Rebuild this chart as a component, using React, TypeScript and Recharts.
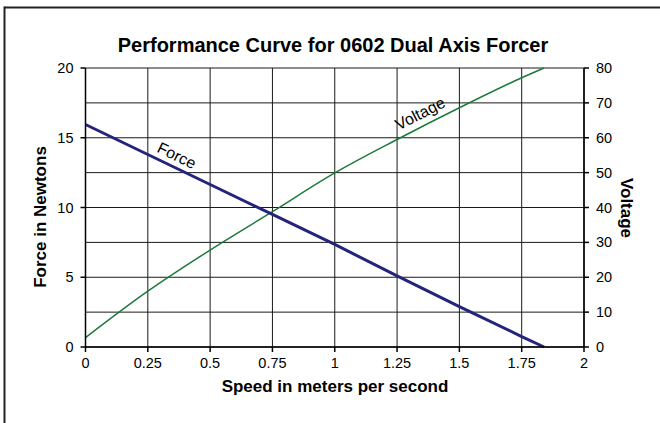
import React from "react";
import { CartesianGrid, Line, LineChart, XAxis, YAxis } from "recharts";

const speed = [0, 0.25, 0.5, 0.75, 1, 1.25, 1.5, 1.75, 1.84];
const force = [15.95, 13.8, 11.65, 9.5, 7.35, 5.1, 2.9, 0.75, 0];
const voltage = [2.7, 16.0, 27.8, 38.8, 49.9, 59.5, 68.6, 77.2, 80];

const speedTicks = [0, 0.25, 0.5, 0.75, 1, 1.25, 1.5, 1.75, 2];
const forceTicks = [0, 5, 10, 15, 20];
const voltTicks = [0, 10, 20, 30, 40, 50, 60, 70, 80];

const data = speed.map((s, i) => ({ speed: s, force: force[i], voltage: voltage[i] }));

const FONT = "'Liberation Sans', Arial, sans-serif";

const makeTick = (anchor: "start" | "middle" | "end", dx: number, dy: number) => (p: any) => (
  <text
    x={p.x + dx}
    y={p.y + dy}
    textAnchor={anchor}
    dominantBaseline="central"
    fontSize={14.5}
    fontFamily={FONT}
    fill="#000"
  >
    {p.payload.value}
  </text>
);

const forceLabel = (p: any) =>
  p.index === 1 ? (
    <text
      x={p.x + 29}
      y={p.y + 1}
      transform={`rotate(26 ${p.x + 29} ${p.y + 1})`}
      textAnchor="middle"
      dominantBaseline="central"
      fontSize={16}
      fontFamily={FONT}
      fill="#000"
    >
      Force
    </text>
  ) : null;

const voltLabel = (p: any) =>
  p.index === 5 ? (
    <text
      x={p.x + 23}
      y={p.y - 26}
      transform={`rotate(-27 ${p.x + 23} ${p.y - 26})`}
      textAnchor="middle"
      dominantBaseline="central"
      fontSize={16}
      fontFamily={FONT}
      fill="#000"
    >
      Voltage
    </text>
  ) : null;

export default function App() {
  return (
    <div style={{ position: "relative", width: 660, height: 423, background: "#fff", overflow: "hidden" }}>
      <style>{`body{margin:0}`}</style>
      <LineChart width={660} height={423} data={data} margin={{ top: 68, right: 0, bottom: 0, left: 0 }}>
        <CartesianGrid yAxisId="right" stroke="#1a1a1a" strokeWidth={1} />
        <XAxis
          dataKey="speed"
          type="number"
          domain={[0, 2]}
          ticks={speedTicks}
          height={76}
          tick={makeTick("middle", 0, 9)}
          tickSize={5}
          stroke="#000"
          strokeWidth={1.5}
        />
        <YAxis
          yAxisId="left"
          domain={[0, 20]}
          ticks={forceTicks}
          width={85.5}
          tick={makeTick("end", -5, 0)}
          tickSize={5}
          stroke="#000"
          strokeWidth={1.5}
        />
        <YAxis
          yAxisId="right"
          orientation="right"
          domain={[0, 80]}
          ticks={voltTicks}
          width={76}
          tick={makeTick("start", 5, 0)}
          tickSize={5}
          stroke="#000"
          strokeWidth={1.5}
        />
        <Line
          yAxisId="right"
          dataKey="voltage"
          type="monotone"
          stroke="#1b7a3c"
          strokeWidth={1.5}
          dot={false}
          label={voltLabel}
          isAnimationActive={false}
        />
        <Line
          yAxisId="left"
          dataKey="force"
          type="linear"
          stroke="#24247c"
          strokeWidth={3}
          dot={false}
          label={forceLabel}
          isAnimationActive={false}
        />
      </LineChart>
      <svg
        width={660}
        height={423}
        style={{ position: "absolute", left: 0, top: 0, pointerEvents: "none" }}
      >
        <line x1={4.5} y1={7.5} x2={660} y2={7.5} stroke="#222" strokeWidth={2} />
        <line x1={4.5} y1={6.5} x2={4.5} y2={423} stroke="#222" strokeWidth={2} />
        <text x={333} y={52} textAnchor="middle" fontSize={20} fontWeight="bold" fontFamily={FONT} fill="#000">
          Performance Curve for 0602 Dual Axis Forcer
        </text>
        <text
          x={46}
          y={217}
          transform="rotate(-90 46 217)"
          textAnchor="middle"
          fontSize={17}
          fontWeight="bold"
          fontFamily={FONT}
          fill="#000"
        >
          Force in Newtons
        </text>
        <text
          x={621}
          y={208}
          transform="rotate(90 621 208)"
          textAnchor="middle"
          fontSize={17}
          fontWeight="bold"
          fontFamily={FONT}
          fill="#000"
        >
          Voltage
        </text>
        <text x={335} y={392} textAnchor="middle" fontSize={17} fontWeight="bold" fontFamily={FONT} fill="#000">
          Speed in meters per second
        </text>
      </svg>
    </div>
  );
}
